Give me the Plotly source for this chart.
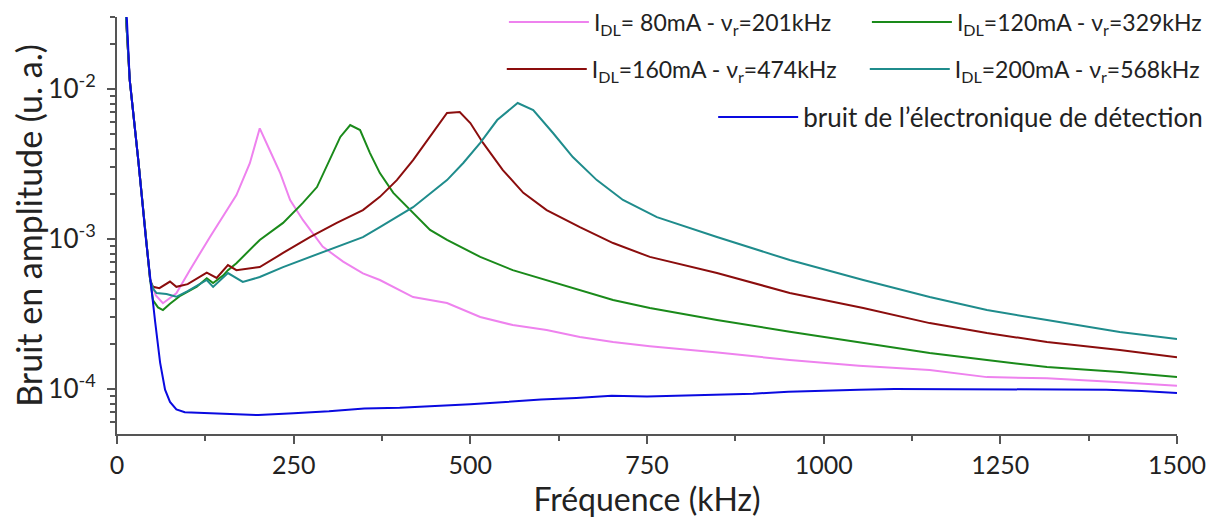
import plotly.graph_objects as go

# ---- data ----
freq_80 = [10, 18, 30, 41, 47, 55, 65, 84, 103, 132, 169, 188, 202, 216, 231, 245, 263, 291, 320, 348,
           372, 419, 467, 514, 560, 608, 655, 702, 754, 850, 952, 1050, 1150, 1231, 1316, 1419, 1500]
amp_80 = [0.05, 0.0115, 0.0034, 0.00099, 0.00053, 0.00042, 0.000373, 0.000435, 0.00062, 0.00104,
          0.00196, 0.0032, 0.00547, 0.00392, 0.00275, 0.00182, 0.00134, 0.00089, 0.000706, 0.00059,
          0.000533, 0.00041, 0.000374, 0.000302, 0.000267, 0.000247, 0.000222, 0.000206, 0.000193,
          0.000175, 0.000156, 0.000143, 0.000134, 0.00012, 0.000118, 0.000111, 0.000105]

freq_120 = [10, 18, 30, 41, 47, 51, 58, 65, 75, 90, 113, 127, 136, 150, 157, 169, 202, 235, 263, 283,
            301, 316, 330, 344, 358, 372, 391, 419, 443, 467, 514, 560, 608, 655, 702, 754, 849, 952,
            1056, 1150, 1231, 1316, 1419, 1500]
amp_120 = [0.05, 0.0115, 0.0034, 0.00099, 0.00053, 0.00039, 0.00035, 0.000336, 0.00037, 0.00042,
           0.000481, 0.000547, 0.000509, 0.00057, 0.00062, 0.00069, 0.000985, 0.00128, 0.00174, 0.00222,
           0.00336, 0.00479, 0.00575, 0.00533, 0.00374, 0.00275, 0.00203, 0.00149, 0.00115, 0.000985,
           0.00076, 0.00062, 0.000533, 0.000457, 0.000392, 0.000347, 0.000288, 0.000241, 0.000203,
           0.000174, 0.000156, 0.00014, 0.00013, 0.00012]

freq_160 = [10, 18, 30, 41, 47, 51, 60, 75, 84, 100, 127, 141, 157, 169, 202, 235, 273, 311, 348, 372,
            386, 396, 419, 443, 467, 485, 500, 518, 546, 575, 608, 655, 702, 754, 849, 952, 1056, 1150,
            1231, 1316, 1419, 1500]
amp_160 = [0.05, 0.0115, 0.0034, 0.00099, 0.00053, 0.00048, 0.00047, 0.00052, 0.00048, 0.0005,
           0.000597, 0.00055, 0.00067, 0.00062, 0.00065, 0.000807, 0.00103, 0.00128, 0.00156, 0.00191,
           0.00222, 0.00247, 0.00336, 0.00479, 0.00692, 0.00703, 0.00593, 0.00437, 0.00288, 0.00203,
           0.00156, 0.0012, 0.00094, 0.00076, 0.000593, 0.000437, 0.000347, 0.000275, 0.000236,
           0.000206, 0.000182, 0.000163]

freq_200 = [10, 18, 30, 41, 47, 52, 56, 70, 84, 100, 127, 136, 157, 178, 202, 235, 273, 311, 348, 372,
            419, 467, 490, 514, 538, 567, 589, 617, 645, 679, 716, 764, 849, 952, 1056, 1150, 1231, 1316,
            1419, 1500]
amp_200 = [0.05, 0.0115, 0.0034, 0.00099, 0.00053, 0.00046, 0.000436, 0.00043, 0.000412, 0.00045,
           0.000533, 0.000479, 0.000593, 0.000517, 0.000558, 0.00065, 0.00076, 0.000885, 0.00103, 0.0012,
           0.00163, 0.00247, 0.00321, 0.00437, 0.00621, 0.00807, 0.00724, 0.00509, 0.00352, 0.00247,
           0.00182, 0.0014, 0.00103, 0.000724, 0.000533, 0.00041, 0.000336, 0.000288, 0.00024, 0.000215]

freq_bruit = [10, 14, 18, 30, 41, 47, 54, 61, 68, 75, 84, 96, 125, 150, 200, 250, 300, 350, 400, 450,
              500, 550, 600, 650, 700, 750, 800, 850, 900, 950, 1000, 1050, 1100, 1150, 1200, 1250, 1300,
              1350, 1400, 1450, 1500]
amp_bruit = [0.05, 0.029, 0.0115, 0.0034, 0.00099, 0.00053, 0.00028, 0.00015, 9.9e-5, 8.2e-5, 7.3e-5,
             7.0e-5, 6.9e-5, 6.8e-5, 6.7e-5, 6.9e-5, 7.1e-5, 7.4e-5, 7.5e-5, 7.7e-5, 7.9e-5, 8.2e-5,
             8.5e-5, 8.7e-5, 9.0e-5, 8.9e-5, 9.0e-5, 9.1e-5, 9.3e-5, 9.6e-5, 9.8e-5, 9.9e-5, 1.0e-4,
             1.0e-4, 1.0e-4, 9.9e-5, 1.0e-4, 1.0e-4, 9.9e-5, 9.7e-5, 9.4e-5]

names = [
    "I<sub>DL</sub>= 80mA - ν<sub>r</sub>=201kHz",
    "I<sub>DL</sub>=120mA - ν<sub>r</sub>=329kHz",
    "I<sub>DL</sub>=160mA - ν<sub>r</sub>=474kHz",
    "I<sub>DL</sub>=200mA - ν<sub>r</sub>=568kHz",
    "bruit de l’électronique de détection",
]
colors = ["#ee82ee", "#1a8a1a", "#8b0d0d", "#1f8c8c", "#0a0ae0"]
legends = ["legend", "legend", "legend2", "legend2", "legend3"]

x_ticks = [0, 250, 500, 750, 1000, 1250, 1500]
y_ticks = [1e-4, 1e-3, 1e-2]
y_ticktext = ["10<sup>-4</sup>", "10<sup>-3</sup>", "10<sup>-2</sup>"]
y_minor = [6e-5, 7e-5, 8e-5, 9e-5] + [k * 1e-4 for k in range(2, 10)] + \
          [k * 1e-3 for k in range(2, 10)] + [2e-2, 3e-2]

FONT = "Lato"
fig = go.Figure()
data = [(freq_80, amp_80), (freq_120, amp_120), (freq_160, amp_160), (freq_200, amp_200),
        (freq_bruit, amp_bruit)]
for (fx, fy), n, c, lg in zip(data, names, colors, legends):
    fig.add_trace(go.Scatter(x=fx, y=fy, mode="lines", name=n, legend=lg,
                             line=dict(color=c, width=2)))

leg_common = dict(orientation="h", yanchor="middle", bgcolor="rgba(0,0,0,0)",
                  entrywidthmode="pixels", itemwidth=80, tracegroupgap=0)
leg_font = dict(family=FONT, size=23, color="#222")
fig.update_layout(
    width=1219, height=519,
    margin=dict(l=109, r=50, t=9, b=93, autoexpand=False),
    paper_bgcolor="white", plot_bgcolor="white",
    font=dict(family=FONT, color="#222"),
    legend=dict(x=0.365, y=0.988, xanchor="left", entrywidth=268, font=leg_font, **leg_common),
    legend2=dict(x=0.363, y=0.875, xanchor="left", entrywidth=268, font=leg_font, **leg_common),
    legend3=dict(x=1.0294, y=0.760, xanchor="right",
                 font=dict(family=FONT, size=26, color="#222"), **leg_common),
    xaxis=dict(range=[0, 1500], tickvals=x_ticks, ticks="outside", ticklen=8, tickwidth=1.5,
               tickcolor="#555", showline=True, linecolor="#555", linewidth=2, showgrid=False,
               zeroline=False, tickfont=dict(family=FONT, size=25, color="#222"),
               minor=dict(dtick=125, tick0=0, ticks="outside", ticklen=5, tickwidth=1.5,
                          tickcolor="#555", showgrid=False),
               title=dict(text="Fréquence (kHz)", font=dict(family=FONT, size=32, color="#222"),
                          standoff=9)),
    yaxis=dict(type="log", range=[-4.3, -1.52], tickvals=y_ticks, ticktext=y_ticktext,
               ticks="outside", ticklen=8, tickwidth=1.5, tickcolor="#555", showline=True,
               linecolor="#555", linewidth=2, showgrid=False, zeroline=False,
               ticklabelstandoff=6,
               tickfont=dict(family=FONT, size=26, color="#222"),
               minor=dict(tickvals=y_minor, ticks="outside", ticklen=5, tickwidth=1.5,
                          tickcolor="#555", showgrid=False),
               title=dict(text="Bruit en amplitude (u. a.)",
                          font=dict(family=FONT, size=34, color="#222"), standoff=6)),
)
fig.write_html("out.html")
